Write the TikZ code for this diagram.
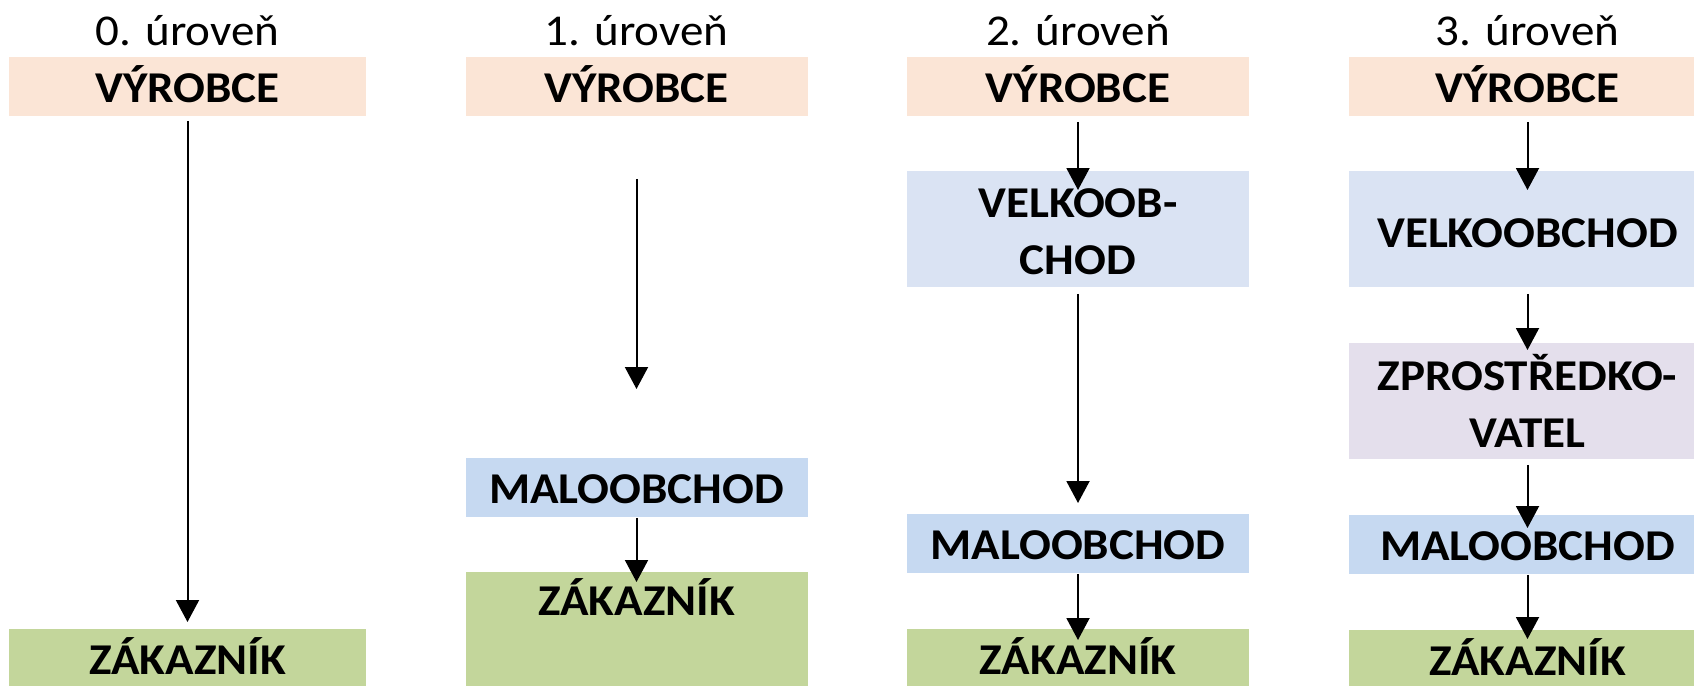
\documentclass[tikz,border=0pt]{standalone}
\usepackage{fontspec}
\setmainfont{Carlito}[FakeStretch=1.07]
\usetikzlibrary{positioning, arrows.meta}

\definecolor{vyrfill}{HTML}{FBE5D6}
\definecolor{velkfill}{HTML}{DAE3F3}
\definecolor{malofill}{HTML}{C6D9F1}
\definecolor{zakfill}{HTML}{C3D69B}
\definecolor{zprfill}{HTML}{E4DFEC}

\begin{document}
\begin{tikzpicture}[
  x=0.5pt, y=-0.5pt,
  every node/.style={align=center, inner xsep=0pt, inner ysep=0pt, anchor=north},
  lvl/.style={font=\fontsize{22}{26}\selectfont, anchor=base},
  box/.style={font=\fontsize{22}{28.5}\selectfont\bfseries, minimum width=171pt, text height=22.5pt, text depth=7pt},
  wide/.style={minimum width=178.5pt},
  tall/.style={text height=51.5pt, text depth=6.5pt},
  vyr/.style={box, fill=vyrfill},
  velk/.style={box, fill=velkfill},
  malo/.style={box, fill=malofill},
  zak/.style={box, fill=zakfill},
  zpr/.style={box, fill=zprfill},
  >={Triangle[width=11.5pt, length=11pt]},
  flow/.style={->, line width=1pt}
]
\useasboundingbox (0,0) rectangle (1694,686);

% 0. úroveň
\node[lvl] (lvl0) at (187.5,45) {0. úroveň};
\node[vyr, wide] (vyr0) at (187.5,57) {VÝROBCE};
\node[zak, wide] (zak0) at (187.5,629) {ZÁKAZNÍK};

% 1. úroveň
\node[lvl] (lvl1) at (636.5,45) {1. úroveň};
\node[vyr] (vyr1) at (636.5,57) {VÝROBCE};
\node[malo] (malo1) at (636.5,458) {MALOOBCHOD};
\node[zak, text height=21.5pt, text depth=36pt] (zak1) at (636.5,572) {ZÁKAZNÍK};

% 2. úroveň
\node[lvl] (lvl2) at (1078,45) {2. úroveň};
\node[vyr] (vyr2) at (1078,57) {VÝROBCE};
\node[velk, tall] (velk2) at (1078,171) {VELKOOB-\\CHOD};
\node[malo] (malo2) at (1078,514) {MALOOBCHOD};
\node[zak] (zak2) at (1078,629) {ZÁKAZNÍK};

% 3. úroveň
\node[lvl] (lvl3) at (1527.5,45) {3. úroveň};
\node[vyr, wide] (vyr3) at (1527.5,57) {VÝROBCE};
\node[velk, wide, text height=38pt, text depth=20pt] (velk3) at (1527.5,171) {VELKOOBCHOD};
\node[zpr, wide, tall, text height=52pt, text depth=6pt] (zpr3) at (1527.5,343) {ZPROSTŘEDKO-\\VATEL};
\node[malo, wide] (malo3) at (1527.5,515) {MALOOBCHOD};
\node[zak, wide] (zak3) at (1527.5,630) {ZÁKAZNÍK};

% šipky
\draw[flow, shorten <=2pt, shorten >=3.5pt] (vyr0) -- (zak0);

\draw[flow, shorten <=31pt, shorten >=34.5pt] (vyr1) -- (malo1);
\draw[flow, shorten >=-5pt] (malo1) -- (zak1);

\draw[flow, shorten <=2.5pt, shorten >=-9.5pt] (vyr2) -- (velk2);
\draw[flow, shorten <=3pt, shorten >=5.5pt] (velk2) -- (malo2);
\draw[flow, shorten >=-5.5pt] (malo2) -- (zak2);

\draw[flow, shorten <=2.5pt, shorten >=-9.5pt] (vyr3) -- (velk3);
\draw[flow, shorten <=3pt, shorten >=-3.5pt] (velk3) -- (zpr3);
\draw[flow, shorten <=2.5pt, shorten >=-6.5pt] (zpr3) -- (malo3);
\draw[flow, shorten >=-4.5pt] (malo3) -- (zak3);

\end{tikzpicture}
\end{document}
